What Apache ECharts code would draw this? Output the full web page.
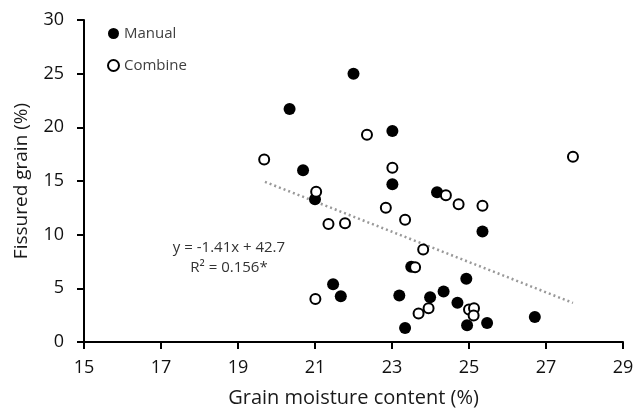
<!DOCTYPE html>
<html><head><meta charset="utf-8">
<script src="https://cdn.jsdelivr.net/npm/echarts@6/dist/echarts.min.js"></script>
<style>html,body{margin:0;padding:0;background:#fff}#c{width:636px;height:412px}</style>
</head><body><div id="c"></div>
<script>
var manualX = [20.34,22.0,23.01,20.69,23.01,21.0,24.17,25.35,23.5,24.93,21.47,21.67,23.19,23.99,24.34,24.7,23.34,24.95,25.47,26.71];
var manualY = [21.7,25.0,19.65,16.0,14.7,13.3,13.95,10.3,7.0,5.9,5.38,4.26,4.33,4.17,4.7,3.65,1.3,1.56,1.77,2.33];
var combineX = [19.68,22.35,23.01,21.03,24.4,24.73,25.35,22.84,23.34,21.35,21.78,23.81,23.6,21.01,23.69,23.95,25.0,25.13,25.12,27.7];
var combineY = [17.0,19.3,16.23,13.99,13.68,12.84,12.69,12.5,11.38,11.0,11.07,8.62,6.97,4.01,2.65,3.14,3.02,3.14,2.46,17.26];
var trendSlope = -1.41, trendIntercept = 42.7;
var trendRange = [19.7, 27.7];
var xTicks = [15,17,19,21,23,25,27,29];
var yTicks = [0,5,10,15,20,25,30];
var eqLines = ['y = -1.41x + 42.7', 'R² = 0.156*'];

function pairs(xs, ys){ return xs.map(function(x,i){return [x, ys[i]];}); }
var trendData = trendRange.map(function(x){ return [x, trendSlope*x + trendIntercept]; });

var chart = echarts.init(document.getElementById('c'));
var font = '"Open Sans", "DejaVu Sans", sans-serif';
chart.setOption({
  animation: false,
  backgroundColor: '#fff',
  grid: {left: 84, right: 13, top: 20, bottom: 70, containLabel: false, outerBoundsMode: 'none'},
  legend: {
    orient: 'vertical', left: 102, top: 21, itemGap: 17, itemWidth: 11, itemHeight: 11,
    data: ['Manual', 'Combine'],
    textStyle: {fontFamily: font, fontSize: 15, color: '#404040', padding: [0,0,0,0]}
  },
  xAxis: {
    type: 'value', min: xTicks[0], max: xTicks[xTicks.length-1], interval: 2,
    name: 'Grain moisture content (%)', nameLocation: 'middle', nameGap: 46,
    nameTextStyle: {fontFamily: font, fontSize: 20, color: '#1a1a1a'},
    axisLine: {lineStyle: {color: '#000', width: 2}},
    axisTick: {show: true, inside: false, length: 7, lineStyle: {color: '#000', width: 2}},
    axisLabel: {fontFamily: font, fontSize: 18, color: '#111', margin: 17},
    splitLine: {show: false}
  },
  yAxis: {
    type: 'value', min: yTicks[0], max: yTicks[yTicks.length-1], interval: 5,
    name: 'Fissured grain (%)', nameLocation: 'middle', nameGap: 53,
    nameTextStyle: {fontFamily: font, fontSize: 19, color: '#1a1a1a'},
    axisLine: {show: true, lineStyle: {color: '#000', width: 2}},
    axisTick: {show: true, inside: false, length: 7, lineStyle: {color: '#000', width: 2}},
    axisLabel: {fontFamily: font, fontSize: 18, color: '#111', margin: 20},
    splitLine: {show: false}
  },
  series: [
    {name: 'Trend', type: 'line', data: trendData, symbol: 'none', silent: true,
     lineStyle: {color: '#999', width: 2.5, type: [2, 3]}, z: 1},
    {name: 'Manual', type: 'scatter', data: pairs(manualX, manualY), symbol: 'circle', symbolSize: 12,
     itemStyle: {color: '#000', borderColor: '#000', borderWidth: 0, opacity: 1}, z: 3},
    {name: 'Combine', type: 'scatter', data: pairs(combineX, combineY), symbol: 'circle', symbolSize: 10,
     itemStyle: {color: '#fff', borderColor: '#000', borderWidth: 2, opacity: 1}, z: 4}
  ],
  graphic: [
    {type: 'text', x: 229, y: 248, style: {text: eqLines[0], font: '15px ' + font, fill: '#333', textAlign: 'center', textVerticalAlign: 'middle'}},
    {type: 'text', x: 229, y: 268, style: {text: eqLines[1], font: '15px ' + font, fill: '#333', textAlign: 'center', textVerticalAlign: 'middle'}}
  ]
});
</script></body></html>
